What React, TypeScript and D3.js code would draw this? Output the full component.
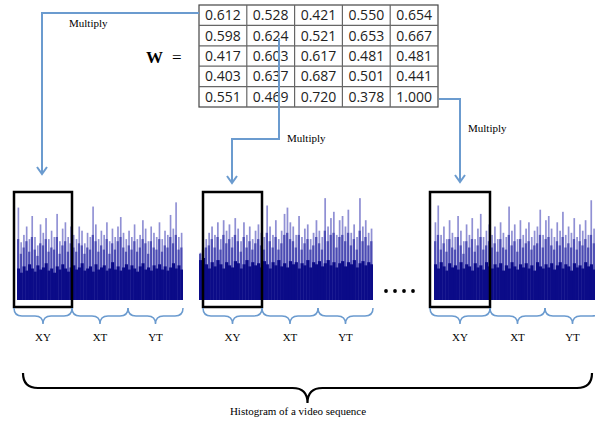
import React from "react";
import * as d3 from "d3";

// weight matrix W (5x5)
const matrix = [
  ["0.612", "0.528", "0.421", "0.550", "0.654"],
  ["0.598", "0.624", "0.521", "0.653", "0.667"],
  ["0.417", "0.603", "0.617", "0.481", "0.481"],
  ["0.403", "0.637", "0.687", "0.501", "0.441"],
  ["0.551", "0.469", "0.720", "0.378", "1.000"],
];

const segmentLabels = ["XY", "XT", "YT"];

// histogram bin heights: peak spikes, medium layer and dense base, 60 bins each
const h1Peak = [
  88, 55, 62, 70, 58, 80, 60, 52, 72, 64, 78, 58, 66, 60, 82, 56, 68, 74, 60, 70,
  62, 58, 70, 66, 54, 64, 60, 89, 72, 58, 66, 62, 74, 56, 68, 60, 70, 79, 64, 58,
  66, 60, 72, 58, 62, 76, 68, 56, 70, 64, 60, 74, 58, 66, 62, 81, 68, 93, 60, 64,
];
const h1Mid = [
  58, 44, 50, 56, 46, 60, 48, 42, 54, 52, 58, 46, 50, 48, 60, 44, 52, 56, 46, 54,
  50, 46, 54, 52, 44, 50, 48, 62, 56, 46, 52, 48, 58, 44, 54, 48, 56, 60, 50, 46,
  52, 48, 56, 46, 50, 58, 54, 44, 56, 50, 48, 58, 46, 52, 50, 60, 54, 62, 48, 50,
];
const h1Base = [
  30, 26, 32, 28, 34, 30, 27, 33, 29, 31, 35, 28, 30, 26, 32, 29, 34, 30, 27, 31,
  33, 29, 31, 35, 28, 30, 32, 27, 34, 29, 31, 33, 28, 30, 36, 29, 32, 28, 31, 34,
  29, 33, 30, 27, 32, 35, 29, 31, 28, 33, 30, 34, 29, 32, 28, 31, 35, 30, 33, 29,
];
const h2Peak = [
  45, 50, 58, 64, 70, 62, 74, 58, 76, 66, 72, 60, 78, 68, 56, 74, 62, 70, 58, 66,
  72, 64, 60, 90, 70, 62, 76, 58, 66, 82, 88, 74, 70, 62, 80, 60, 68, 72, 58, 64,
  76, 66, 60, 97, 70, 78, 84, 62, 76, 80, 70, 86, 64, 72, 60, 97, 70, 76, 64, 68,
];
const h2Mid = [
  44, 48, 50, 52, 58, 50, 60, 48, 62, 54, 58, 50, 62, 56, 46, 60, 50, 56, 48, 54,
  58, 52, 48, 64, 56, 50, 60, 48, 54, 62, 64, 58, 56, 50, 62, 48, 54, 58, 48, 52,
  60, 54, 48, 66, 56, 62, 64, 50, 60, 62, 56, 64, 52, 58, 48, 66, 56, 60, 52, 56,
];
const h2Base = [
  38, 40, 34, 30, 36, 32, 38, 34, 30, 36, 33, 31, 37, 35, 30, 34, 38, 32, 36, 33,
  35, 31, 37, 34, 30, 36, 33, 38, 32, 35, 31, 37, 34, 36, 30, 35, 33, 38, 31, 36,
  34, 37, 32, 35, 38, 33, 36, 31, 35, 37, 32, 36, 34, 38, 31, 35, 37, 33, 36, 34,
];
const h3Peak = [
  74, 90, 62, 70, 58, 76, 64, 60, 80, 66, 56, 72, 62, 78, 58, 68, 82, 60, 66, 72,
  62, 70, 58, 74, 64, 60, 89, 66, 72, 58, 76, 62, 68, 74, 60, 66, 70, 86, 62, 76,
  80, 68, 60, 74, 66, 84, 62, 70, 64, 78, 60, 72, 66, 76, 62, 95, 68, 60, 74, 66,
];
const h3Mid = [
  56, 62, 48, 54, 46, 58, 50, 48, 60, 52, 44, 56, 50, 58, 46, 52, 60, 48, 52, 56,
  50, 54, 46, 58, 50, 48, 62, 52, 56, 46, 58, 50, 54, 56, 48, 52, 54, 62, 50, 58,
  60, 52, 48, 56, 52, 60, 50, 54, 50, 58, 48, 56, 52, 58, 50, 62, 54, 48, 56, 52,
];
const h3Base = [
  34, 30, 36, 32, 28, 35, 31, 33, 29, 36, 30, 34, 32, 28, 35, 31, 33, 29, 36, 32,
  30, 34, 31, 35, 28, 33, 30, 36, 32, 29, 34, 31, 35, 30, 33, 28, 36, 32, 30, 34,
  31, 35, 29, 33, 36, 30, 34, 32, 28, 35, 31, 33, 30, 36, 32, 34, 29, 35, 31, 33,
];

const histograms = [
  { peak: h1Peak, mid: h1Mid, base: h1Base, x0: 17, x1: 183, box: [14, 72], braces: [14, 72, 128, 183] },
  { peak: h2Peak, mid: h2Mid, base: h2Base, x0: 199, x1: 373, box: [203, 262], braces: [203, 262, 318, 373] },
  { peak: h3Peak, mid: h3Mid, base: h3Base, x0: 434, x1: 604, box: [430, 490], braces: [430, 490, 545, 600] },
];

const BLUE = "#6b9bcf";
const serif = "'Liberation Serif', 'DejaVu Serif', serif";

const brace = (x1: number, x2: number, y: number, r: number, h: number) => {
  const m = (x1 + x2) / 2;
  return `M${x1},${y} Q${x1},${y + r} ${x1 + r},${y + r} L${m - r},${y + r} Q${m},${y + r} ${m},${y + h} Q${m},${y + r} ${m + r},${y + r} L${x2 - r},${y + r} Q${x2},${y + r} ${x2},${y}`;
};

const chevron = (x: number, y: number) => `M${x - 5},${y - 7} L${x},${y} L${x + 5},${y - 7}`;

function Histogram({ h, idx }: { h: any; idx: number }) {
  const x = d3
    .scaleBand<number>()
    .domain(d3.range(h.peak.length))
    .range([h.x0, h.x1])
    .padding(0);
  const y = d3.scaleLinear().domain([0, 100]).range([300, 195]);
  const bw = x.bandwidth();
  return (
    <g>
      <clipPath id={"clip" + idx}>
        <rect x={h.x0} y={150} width={h.x1 - h.x0} height={160} />
      </clipPath>
      <g clipPath={`url(#clip${idx})`}>
        {h.peak.map((v: number, i: number) => (
          <rect key={"p" + i} x={x(i)! + bw * 0.2} y={y(v)} width={bw * 0.6} height={y(0) - y(v)} fill="#9090d4" />
        ))}
        {h.mid.map((v: number, i: number) => (
          <rect key={"m" + i} x={x(i)!} y={y(v)} width={bw * 0.8} height={y(0) - y(v)} fill="#3a3aaa" fillOpacity={0.8} />
        ))}
        {h.base.map((v: number, i: number) => (
          <rect key={"b" + i} x={x(i)!} y={y(v)} width={bw + 0.3} height={y(0) - y(v)} fill="#0b0b88" />
        ))}
      </g>
      <rect x={h.box[0]} y={192} width={h.box[1] - h.box[0]} height={115} fill="none" stroke="#000" strokeWidth={2.5} />
      {segmentLabels.map((lab, k) => {
        const a = h.braces[k];
        const b = h.braces[k + 1];
        return (
          <g key={lab}>
            <path d={brace(a, b, 308, 8, 16)} fill="none" stroke={BLUE} strokeWidth={1.5} />
            <text x={(a + b) / 2} y={341} textAnchor="middle" fontFamily={serif} fontSize={11}>
              {lab}
            </text>
          </g>
        );
      })}
    </g>
  );
}

export default function App() {
  const colX = d3.scaleLinear().domain([0, 5]).range([199, 438]);
  const rowY = d3.scaleLinear().domain([0, 5]).range([5, 107]);
  return (
    <svg width={595} height={422} style={{ position: "absolute", left: 0, top: 0, background: "#fff" }}>
      {/* matrix */}
      <text x={146} y={63} fontFamily={serif} fontWeight="bold" fontSize={17}>W</text>
      <text x={172} y={63} fontFamily={serif} fontSize={17}>=</text>
      <rect x={colX(0)} y={rowY(0)} width={colX(5) - colX(0)} height={rowY(5) - rowY(0)} fill="#fff" stroke="#444" strokeWidth={1.2} />
      {d3.range(1, 5).map((i) => (
        <line key={"c" + i} x1={colX(i)} x2={colX(i)} y1={rowY(0)} y2={rowY(5)} stroke="#666" strokeWidth={1.2} />
      ))}
      {d3.range(1, 5).map((i) => (
        <line key={"r" + i} x1={colX(0)} x2={colX(5)} y1={rowY(i)} y2={rowY(i)} stroke="#666" strokeWidth={1.2} />
      ))}
      {matrix.map((row, r) =>
        row.map((v, c) => (
          <text key={r + "-" + c} x={(colX(c) + colX(c + 1)) / 2} y={(rowY(r) + rowY(r + 1)) / 2 + 5} textAnchor="middle" fontFamily="'Open Sans', sans-serif" fontSize={14} fill="#222">
            {v}
          </text>
        ))
      )}

      {/* arrows */}
      <path d="M199,13 L42,13 L42,174" fill="none" stroke={BLUE} strokeWidth={2} />
      <path d={chevron(42, 174)} fill="none" stroke={BLUE} strokeWidth={2} />
      <path d="M279,38 L279,139 L232,139 L232,183" fill="none" stroke={BLUE} strokeWidth={2} />
      <path d={chevron(232, 183)} fill="none" stroke={BLUE} strokeWidth={2} />
      <path d="M439,99 L460,99 L460,182" fill="none" stroke={BLUE} strokeWidth={2} />
      <path d={chevron(460, 182)} fill="none" stroke={BLUE} strokeWidth={2} />
      <text x={69} y={27} fontFamily={serif} fontSize={11}>Multiply</text>
      <text x={287} y={142} fontFamily={serif} fontSize={11}>Multiply</text>
      <text x={468} y={132} fontFamily={serif} fontSize={11}>Multiply</text>

      {histograms.map((h, i) => (
        <Histogram key={i} h={h} idx={i} />
      ))}

      {[386, 395, 404, 413].map((cx) => (
        <circle key={cx} cx={cx} cy={291} r={1.9} fill="#000" />
      ))}

      <path d={brace(23, 592, 373, 15, 30)} fill="none" stroke="#000" strokeWidth={2.2} />
      <text x={298} y={415} textAnchor="middle" fontFamily={serif} fontSize={11}>
        Histogram of a video sequence
      </text>
    </svg>
  );
}
